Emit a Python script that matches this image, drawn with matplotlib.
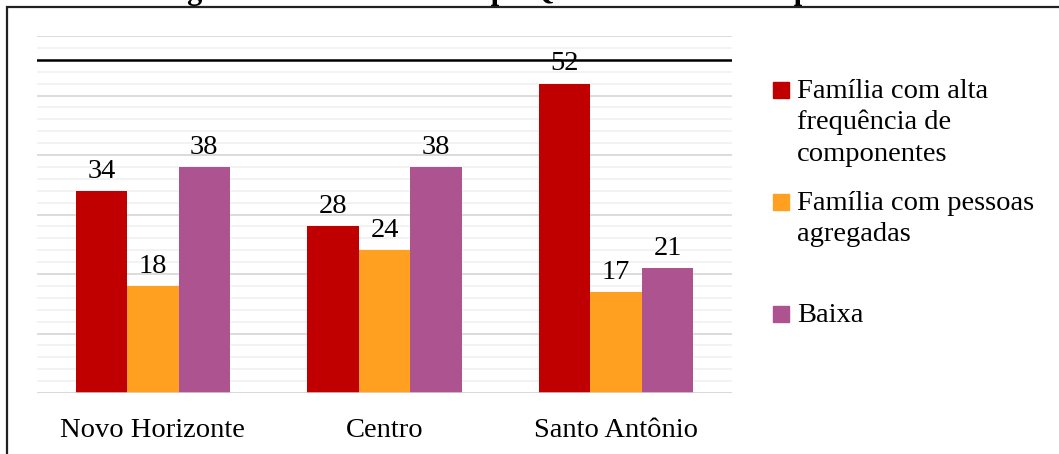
import matplotlib.pyplot as plt
from matplotlib.patches import Rectangle
from matplotlib.ticker import MultipleLocator

plt.rcParams['font.family'] = ['Liberation Serif', 'DejaVu Serif']

bairros = ['Novo Horizonte', 'Centro', 'Santo Antônio']
series = ['Família com alta\nfrequência de\ncomponentes',
          'Família com pessoas\nagregadas',
          'Baixa']
alta_frequencia = [34, 28, 52]
pessoas_agregadas = [18, 24, 17]
baixa = [38, 38, 21]
valores = [alta_frequencia, pessoas_agregadas, baixa]
cores = ['#C00000', '#FFA021', '#AD5490']

W, H = 1059, 454
fig = plt.figure(figsize=(W / 100, H / 100), dpi=100)
ax = fig.add_axes([37 / W, 1 - 393 / H, (732 - 37) / W, (393 - 36) / H])

largura = 0.222
x = list(range(len(bairros)))
for i, (vals, cor) in enumerate(zip(valores, cores)):
    pos = [p + (i - 1) * largura for p in x]
    barras = ax.bar(pos, vals, width=largura, color=cor, zorder=3)
    for b, v in zip(barras, vals):
        ax.annotate(str(v), (b.get_x() + b.get_width() / 2, v),
                    xytext=(0, 9.5), textcoords='offset points',
                    ha='center', va='baseline', fontsize=20.5, zorder=5)

ax.set_xlim(-0.5, 2.5)
ax.set_ylim(0, 60)
ax.yaxis.set_major_locator(MultipleLocator(10))
ax.yaxis.set_minor_locator(MultipleLocator(2))
ax.grid(axis='y', which='major', color='#D9D9D9', lw=1.3, zorder=0)
ax.grid(axis='y', which='minor', color='#F2F2F2', lw=1.3, zorder=0)
ax.axhline(0, color='#D9D9D9', lw=1.8, zorder=4)
ax.axhline(56, color='black', lw=1.8, zorder=4)
for s in ax.spines.values():
    s.set_visible(False)
ax.set_yticklabels([])
ax.tick_params(axis='y', which='both', length=0)
ax.set_xticks(x)
ax.set_xticklabels(bairros, fontsize=20.5)
ax.tick_params(axis='x', length=0, pad=18)

# legenda desenhada à mão, marcador alinhado com a primeira linha
y_base = [98, 210, 322]
for nome, cor, yb in zip(series, cores, y_base):
    fig.add_artist(Rectangle((773 / W, 1 - yb / H), 16 / W, 16 / H,
                             transform=fig.transFigure, color=cor))
    fig.text(797 / W, 1 - (yb - 19.5) / H, nome, fontsize=20.5, va='top',
             ha='left', linespacing=1.33)

# moldura e título da figura
fig.add_artist(Rectangle((7 / W, -0.2), 1.2, 1.2 - 7 / H, transform=fig.transFigure,
                         fill=False, ec='#222222', lw=1.6))
fig.text(538 / W, 1 + 1 / H, 'Figura 6: Gráfico do Grupo Quantidade de Componentes.',
         fontsize=22, fontweight='bold', ha='center', va='baseline')

fig.savefig('out.png', dpi=100)
